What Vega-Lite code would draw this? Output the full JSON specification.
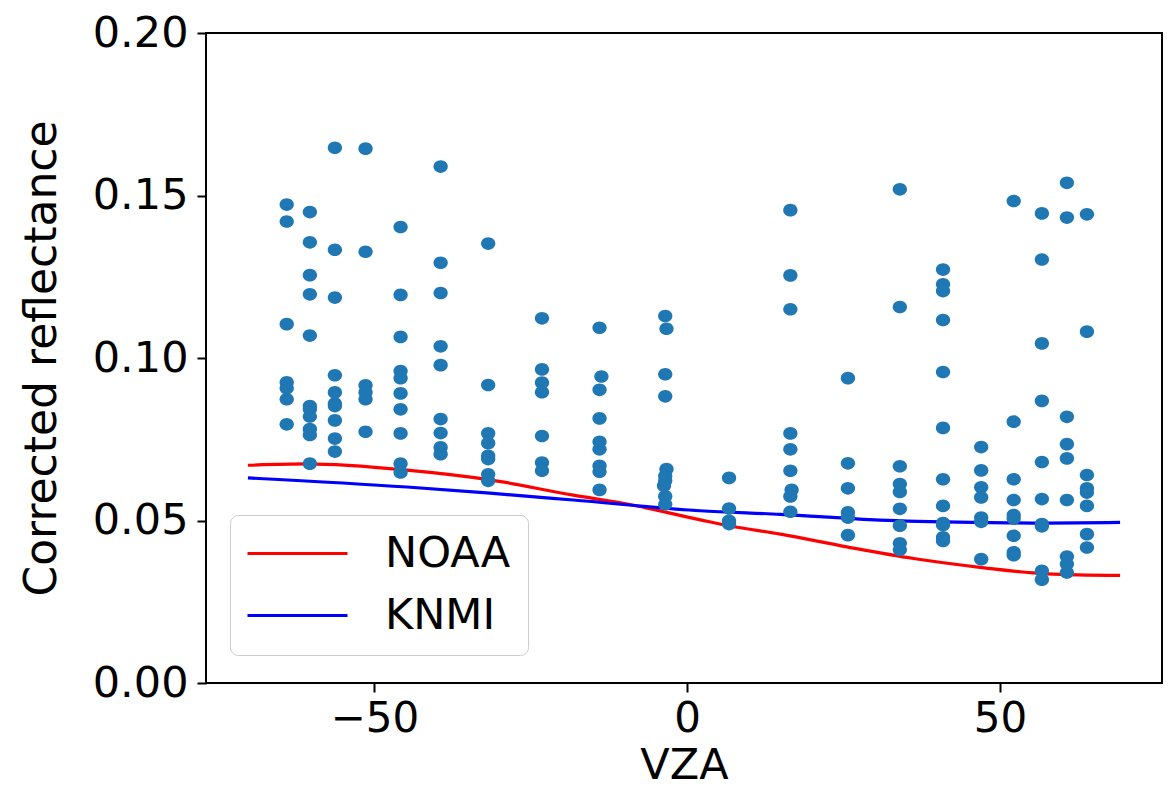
{
  "$schema": "https://vega.github.io/schema/vega-lite/v6.json",
  "width": 956,
  "height": 650,
  "autosize": {"type": "none"},
  "padding": {"left": 206, "top": 33, "right": 10, "bottom": 106},
  "background": "white",
  "datasets": {
    "points": [
      {"vza": -64.0, "refl": 0.1472}, {"vza": -64.0, "refl": 0.1420}, {"vza": -64.0, "refl": 0.1104}, {"vza": -64.0, "refl": 0.0925}, {"vza": -64.0, "refl": 0.0907}, {"vza": -64.0, "refl": 0.0873}, {"vza": -64.0, "refl": 0.0796},
      {"vza": -60.3, "refl": 0.1449}, {"vza": -60.3, "refl": 0.1356}, {"vza": -60.3, "refl": 0.1255}, {"vza": -60.3, "refl": 0.1196}, {"vza": -60.3, "refl": 0.1069}, {"vza": -60.3, "refl": 0.0852}, {"vza": -60.3, "refl": 0.0842}, {"vza": -60.3, "refl": 0.0820}, {"vza": -60.3, "refl": 0.0781}, {"vza": -60.3, "refl": 0.0763}, {"vza": -60.3, "refl": 0.0675},
      {"vza": -56.3, "refl": 0.1647}, {"vza": -56.3, "refl": 0.1333}, {"vza": -56.3, "refl": 0.1186}, {"vza": -56.3, "refl": 0.0947}, {"vza": -56.3, "refl": 0.0894}, {"vza": -56.3, "refl": 0.0860}, {"vza": -56.3, "refl": 0.0852}, {"vza": -56.3, "refl": 0.0808}, {"vza": -56.3, "refl": 0.0752}, {"vza": -56.3, "refl": 0.0712},
      {"vza": -51.4, "refl": 0.1644}, {"vza": -51.4, "refl": 0.1327}, {"vza": -51.4, "refl": 0.0916}, {"vza": -51.4, "refl": 0.0894}, {"vza": -51.4, "refl": 0.0873}, {"vza": -51.4, "refl": 0.0773},
      {"vza": -45.8, "refl": 0.1403}, {"vza": -45.8, "refl": 0.1194}, {"vza": -45.8, "refl": 0.1065}, {"vza": -45.8, "refl": 0.0960}, {"vza": -45.8, "refl": 0.0938}, {"vza": -45.8, "refl": 0.0891}, {"vza": -45.8, "refl": 0.0842}, {"vza": -45.8, "refl": 0.0768}, {"vza": -45.8, "refl": 0.0675}, {"vza": -45.8, "refl": 0.0648},
      {"vza": -39.4, "refl": 0.1589}, {"vza": -39.4, "refl": 0.1293}, {"vza": -39.4, "refl": 0.1200}, {"vza": -39.4, "refl": 0.1036}, {"vza": -39.4, "refl": 0.0978}, {"vza": -39.4, "refl": 0.0812}, {"vza": -39.4, "refl": 0.0769}, {"vza": -39.4, "refl": 0.0725}, {"vza": -39.4, "refl": 0.0704},
      {"vza": -31.8, "refl": 0.1352}, {"vza": -31.8, "refl": 0.0917}, {"vza": -31.8, "refl": 0.0768}, {"vza": -31.8, "refl": 0.0738}, {"vza": -31.8, "refl": 0.0699}, {"vza": -31.8, "refl": 0.0689}, {"vza": -31.8, "refl": 0.0642}, {"vza": -31.8, "refl": 0.0622},
      {"vza": -23.2, "refl": 0.1122}, {"vza": -23.2, "refl": 0.0965}, {"vza": -23.2, "refl": 0.0924}, {"vza": -23.2, "refl": 0.0895}, {"vza": -23.2, "refl": 0.0760}, {"vza": -23.2, "refl": 0.0678}, {"vza": -23.2, "refl": 0.0653},
      {"vza": -14.0, "refl": 0.1093}, {"vza": -13.7, "refl": 0.0943}, {"vza": -14.0, "refl": 0.0902}, {"vza": -14.0, "refl": 0.0814}, {"vza": -14.0, "refl": 0.0742}, {"vza": -14.0, "refl": 0.0719}, {"vza": -14.0, "refl": 0.0668}, {"vza": -14.0, "refl": 0.0650}, {"vza": -14.0, "refl": 0.0594},
      {"vza": -3.5, "refl": 0.1129}, {"vza": -3.3, "refl": 0.1090}, {"vza": -3.5, "refl": 0.0950}, {"vza": -3.5, "refl": 0.0882}, {"vza": -3.3, "refl": 0.0658}, {"vza": -3.5, "refl": 0.0637}, {"vza": -3.5, "refl": 0.0622}, {"vza": -3.7, "refl": 0.0607}, {"vza": -3.5, "refl": 0.0574}, {"vza": -3.5, "refl": 0.0550},
      {"vza": 6.7, "refl": 0.0631}, {"vza": 6.7, "refl": 0.0537}, {"vza": 6.7, "refl": 0.0499}, {"vza": 6.7, "refl": 0.0489},
      {"vza": 16.5, "refl": 0.1455}, {"vza": 16.5, "refl": 0.1254}, {"vza": 16.5, "refl": 0.1150}, {"vza": 16.5, "refl": 0.0768}, {"vza": 16.5, "refl": 0.0719}, {"vza": 16.5, "refl": 0.0653}, {"vza": 16.7, "refl": 0.0594}, {"vza": 16.5, "refl": 0.0574}, {"vza": 16.5, "refl": 0.0527},
      {"vza": 25.7, "refl": 0.0938}, {"vza": 25.7, "refl": 0.0676}, {"vza": 25.7, "refl": 0.0599}, {"vza": 25.7, "refl": 0.0525}, {"vza": 25.7, "refl": 0.0509}, {"vza": 25.7, "refl": 0.0455},
      {"vza": 34.0, "refl": 0.1519}, {"vza": 34.0, "refl": 0.1157}, {"vza": 34.0, "refl": 0.0667}, {"vza": 34.0, "refl": 0.0612}, {"vza": 34.0, "refl": 0.0588}, {"vza": 34.0, "refl": 0.0536}, {"vza": 34.0, "refl": 0.0484}, {"vza": 34.0, "refl": 0.0430}, {"vza": 34.0, "refl": 0.0410},
      {"vza": 40.9, "refl": 0.1272}, {"vza": 40.9, "refl": 0.1227}, {"vza": 40.9, "refl": 0.1206}, {"vza": 40.9, "refl": 0.1117}, {"vza": 40.9, "refl": 0.0957}, {"vza": 40.9, "refl": 0.0785}, {"vza": 40.9, "refl": 0.0627}, {"vza": 40.9, "refl": 0.0545}, {"vza": 40.9, "refl": 0.0492}, {"vza": 40.9, "refl": 0.0486}, {"vza": 40.9, "refl": 0.0448}, {"vza": 40.9, "refl": 0.0437},
      {"vza": 47.0, "refl": 0.0726}, {"vza": 47.0, "refl": 0.0654}, {"vza": 47.0, "refl": 0.0602}, {"vza": 47.0, "refl": 0.0571}, {"vza": 47.0, "refl": 0.0509}, {"vza": 47.0, "refl": 0.0496}, {"vza": 47.0, "refl": 0.0381},
      {"vza": 52.2, "refl": 0.1483}, {"vza": 52.2, "refl": 0.0804}, {"vza": 52.2, "refl": 0.0627}, {"vza": 52.2, "refl": 0.0563}, {"vza": 52.2, "refl": 0.0517}, {"vza": 52.2, "refl": 0.0506}, {"vza": 52.2, "refl": 0.0453}, {"vza": 52.2, "refl": 0.0402}, {"vza": 52.2, "refl": 0.0393},
      {"vza": 56.7, "refl": 0.1445}, {"vza": 56.7, "refl": 0.1303}, {"vza": 56.7, "refl": 0.1045}, {"vza": 56.7, "refl": 0.0868}, {"vza": 56.7, "refl": 0.0680}, {"vza": 56.7, "refl": 0.0566}, {"vza": 56.7, "refl": 0.0489}, {"vza": 56.7, "refl": 0.0482}, {"vza": 56.7, "refl": 0.0345}, {"vza": 56.7, "refl": 0.0318},
      {"vza": 60.7, "refl": 0.1539}, {"vza": 60.7, "refl": 0.1432}, {"vza": 60.7, "refl": 0.0819}, {"vza": 60.7, "refl": 0.0735}, {"vza": 60.7, "refl": 0.0691}, {"vza": 60.7, "refl": 0.0563}, {"vza": 60.7, "refl": 0.0389}, {"vza": 60.7, "refl": 0.0366}, {"vza": 60.7, "refl": 0.0340},
      {"vza": 63.9, "refl": 0.1442}, {"vza": 63.9, "refl": 0.1081}, {"vza": 63.9, "refl": 0.0640}, {"vza": 63.9, "refl": 0.0599}, {"vza": 63.9, "refl": 0.0586}, {"vza": 63.9, "refl": 0.0545}, {"vza": 63.9, "refl": 0.0458}, {"vza": 63.9, "refl": 0.0417}
    ],
    "lines": [
      {"vza": -70.2, "refl": 0.0670, "model": "NOAA"},
      {"vza": -60.8, "refl": 0.0674, "model": "NOAA"},
      {"vza": -44.8, "refl": 0.0655, "model": "NOAA"},
      {"vza": -31.5, "refl": 0.0625, "model": "NOAA"},
      {"vza": -18.2, "refl": 0.0578, "model": "NOAA"},
      {"vza": -10.2, "refl": 0.0553, "model": "NOAA"},
      {"vza": 2.1, "refl": 0.0502, "model": "NOAA"},
      {"vza": 6.9, "refl": 0.0483, "model": "NOAA"},
      {"vza": 14.9, "refl": 0.0458, "model": "NOAA"},
      {"vza": 25.5, "refl": 0.0419, "model": "NOAA"},
      {"vza": 36.2, "refl": 0.0383, "model": "NOAA"},
      {"vza": 46.8, "refl": 0.0356, "model": "NOAA"},
      {"vza": 57.5, "refl": 0.0336, "model": "NOAA"},
      {"vza": 69.2, "refl": 0.0331, "model": "NOAA"},
      {"vza": -70.2, "refl": 0.0631, "model": "KNMI"},
      {"vza": -44.8, "refl": 0.0603, "model": "KNMI"},
      {"vza": -31.5, "refl": 0.0584, "model": "KNMI"},
      {"vza": -18.2, "refl": 0.0563, "model": "KNMI"},
      {"vza": 2.1, "refl": 0.0530, "model": "KNMI"},
      {"vza": 14.9, "refl": 0.0519, "model": "KNMI"},
      {"vza": 30.8, "refl": 0.0501, "model": "KNMI"},
      {"vza": 46.8, "refl": 0.0494, "model": "KNMI"},
      {"vza": 57.5, "refl": 0.0492, "model": "KNMI"},
      {"vza": 69.2, "refl": 0.0494, "model": "KNMI"}
    ]
  },
  "config": {
    "font": "DejaVu Sans",
    "view": {"stroke": "black", "strokeWidth": 2},
    "axis": {
      "grid": false,
      "domain": false,
      "tickSize": 9,
      "tickWidth": 2,
      "tickColor": "black",
      "labelFont": "DejaVu Sans",
      "labelFontSize": 43,
      "labelColor": "black",
      "labelFlush": false,
      "labelOverlap": false,
      "titleFont": "DejaVu Sans",
      "titleFontSize": 43,
      "titleFontWeight": "normal",
      "titleColor": "black"
    }
  },
  "layer": [
    {
      "data": {"name": "lines"},
      "mark": {"type": "line", "strokeWidth": 3.2, "interpolate": "monotone", "clip": true},
      "encoding": {
        "x": {"field": "vza", "type": "quantitative", "scale": {"domain": [-76.9, 75.9], "nice": false, "zero": false},
          "axis": {"values": [-50, 0, 50], "title": "VZA", "labelFontSize": 42, "labelPadding": 6, "titlePadding": 5}},
        "y": {"field": "refl", "type": "quantitative", "scale": {"domain": [0, 0.2], "nice": false, "zero": false},
          "axis": {"values": [0, 0.05, 0.1, 0.15, 0.2], "format": ".2f", "title": "Corrected reflectance", "labelPadding": 9, "titlePadding": 28, "titleFontSize": 44}},
        "color": {"field": "model", "type": "nominal",
          "scale": {"domain": ["NOAA", "KNMI"], "range": ["#ff0000", "#0000ff"]},
          "legend": {"title": null, "orient": "none", "legendX": 24, "legendY": 482,
            "symbolType": "M-5,0H5", "symbolSize": 400, "symbolStrokeWidth": 3.2, "symbolOffset": 29,
            "labelOffset": 66, "labelFontSize": 43, "labelFont": "DejaVu Sans", "labelColor": "black",
            "padding": 17, "rowPadding": 18, "strokeColor": "#cccccc", "fillColor": "white", "cornerRadius": 8}}
      }
    },
    {
      "data": {"name": "points"},
      "mark": {"type": "point", "filled": true, "opacity": 1, "color": "#1f77b4", "strokeWidth": 0,
        "shape": "M-1.126,0A1.126,1,0,1,0,1.126,0A1.126,1,0,1,0,-1.126,0Z", "size": 161},
      "encoding": {
        "x": {"field": "vza", "type": "quantitative"},
        "y": {"field": "refl", "type": "quantitative"}
      }
    }
  ]
}
